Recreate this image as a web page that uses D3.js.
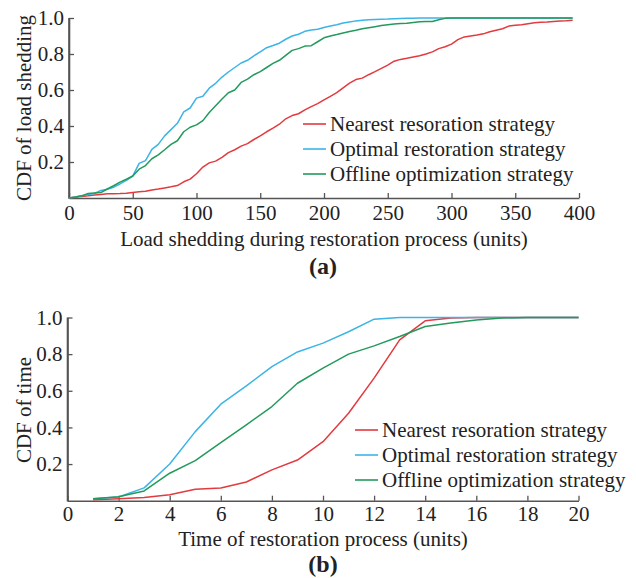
<!DOCTYPE html>
<html>
<head>
<meta charset="utf-8">
<script src="https://cdn.jsdelivr.net/npm/d3@7/dist/d3.min.js"></script>
<style>
  html, body { margin: 0; padding: 0; background: #fff; }
  svg text { font-family: "Liberation Serif", "Times New Roman", serif; fill: #222; }
</style>
</head>
<body>
<svg id="chart" width="636" height="578"></svg>
<script>
// ---- Panel (a): CDF of load shedding ----
const loadShed = [0,5,10,15,20,25,30,35,40,45,50,55,60,65,70,75,80,85,90,95,
  100,105,110,115,120,125,130,135,140,145,150,155,160,165,170,175,180,185,190,195,
  200,205,210,215,220,225,230,235,240,245,250,255,260,265,270,275,280,285,290,295,
  300,305,310,315,320,325,330,335,340,345,350,355,360,365,370,375,380,385,390,395];

const cdfNearestA = [0,0.004,0.009,0.012,0.017,0.02,0.023,0.024,0.025,0.027,
  0.031,0.035,0.037,0.045,0.05,0.056,0.062,0.069,0.09,0.105,
  0.135,0.172,0.195,0.205,0.226,0.252,0.268,0.288,0.302,0.325,
  0.345,0.368,0.388,0.41,0.44,0.458,0.468,0.49,0.508,0.524,
  0.545,0.565,0.585,0.612,0.638,0.658,0.666,0.685,0.702,0.72,
  0.738,0.76,0.77,0.776,0.783,0.79,0.8,0.812,0.83,0.84,
  0.855,0.88,0.895,0.9,0.905,0.912,0.924,0.932,0.94,0.955,
  0.96,0.962,0.968,0.973,0.976,0.978,0.981,0.983,0.985,0.988];

const cdfOptimalA = [0,0.005,0.012,0.02,0.025,0.042,0.048,0.06,0.078,0.098,
  0.122,0.192,0.208,0.27,0.298,0.345,0.38,0.415,0.478,0.5,
  0.555,0.565,0.61,0.637,0.672,0.7,0.725,0.75,0.765,0.79,
  0.812,0.835,0.847,0.86,0.882,0.9,0.91,0.926,0.933,0.937,
  0.947,0.955,0.963,0.972,0.978,0.984,0.988,0.99,0.992,0.993,
  0.994,0.996,0.997,0.998,0.999,1,1,1,1,1,
  1,1,1,1,1,1,1,1,1,1,
  1,1,1,1,1,1,1,1,1,1];

const cdfOfflineA = [0,0.005,0.012,0.025,0.028,0.03,0.05,0.068,0.088,0.104,
  0.122,0.16,0.18,0.218,0.24,0.268,0.298,0.318,0.368,0.393,
  0.406,0.43,0.475,0.512,0.55,0.585,0.6,0.642,0.66,0.685,
  0.702,0.725,0.748,0.765,0.792,0.82,0.83,0.844,0.846,0.868,
  0.89,0.9,0.908,0.917,0.925,0.932,0.94,0.946,0.952,0.958,
  0.963,0.967,0.969,0.971,0.975,0.979,0.98,0.981,0.99,0.998,
  1,1,1,1,1,1,1,1,1,1,
  1,1,1,1,1,1,1,1,1,1];

const xTicksA = [0,50,100,150,200,250,300,350,400];

// ---- Panel (b): CDF of restoration time ----
const restTime = [1,2,3,4,5,6,7,8,9,10,11,12,13,14,15,16,17,18,19,20];
const cdfNearestB = [0.005,0.01,0.018,0.033,0.062,0.069,0.102,0.168,0.222,0.322,
  0.477,0.669,0.878,0.982,0.997,1,1,1,1,1];
const cdfOptimalB = [0.01,0.02,0.07,0.2,0.377,0.527,0.627,0.732,0.812,0.86,
  0.922,0.991,1,1,1,1,1,1,1,1];
const cdfOfflineB = [0.01,0.022,0.053,0.15,0.219,0.317,0.414,0.514,0.641,0.724,
  0.8,0.845,0.896,0.951,0.97,0.987,0.997,1,1,1];
const xTicksB = [0,2,4,6,8,10,12,14,16,18,20];

const yTicks = [0.2,0.4,0.6,0.8,1.0];
const strategyNames = ["Nearest resoration strategy", "Optimal restoration strategy", "Offline optimization strategy"];
const strategyColors = ["#e23a3f", "#3cb4e5", "#239a5c"];

const svg = d3.select("#chart");
const axisColor = "#555";
const fontSize = 21;

function panel(cfg) {
  const x = d3.scaleLinear().domain(cfg.xDomain).range([cfg.left, cfg.right]);
  const y = d3.scaleLinear().domain([0, 1]).range([cfg.bottom, cfg.top]);
  const g = svg.append("g");

  // bottom axis with ticks pointing into the plot
  const xAxis = g.append("g")
    .attr("transform", `translate(0,${cfg.bottom})`)
    .call(d3.axisBottom(x).tickValues(cfg.xTicks).tickSizeInner(-5).tickSizeOuter(0).tickPadding(cfg.xPad).tickFormat(d3.format("d")));
  // left axis
  const yAxis = g.append("g")
    .attr("transform", `translate(${cfg.left},0)`)
    .call(d3.axisLeft(y).tickValues(yTicks).tickSizeInner(-5).tickSizeOuter(0).tickPadding(5).tickFormat(d3.format(".1f")));

  [xAxis, yAxis].forEach(a => {
    a.select(".domain").attr("stroke", axisColor).attr("stroke-width", 1.6);
    a.selectAll(".tick line").attr("stroke", axisColor).attr("stroke-width", 1.3);
    a.selectAll(".tick text").attr("font-size", fontSize).attr("fill", "#222")
      .style("font-family", "'Liberation Serif', 'Times New Roman', serif");
  });
  // extend the y axis line down to the origin corner
  g.append("line")
    .attr("x1", cfg.left).attr("x2", cfg.left)
    .attr("y1", y(1)).attr("y2", cfg.bottom + 0.8)
    .attr("stroke", axisColor).attr("stroke-width", 1.6);

  const line = d3.line().x(d => x(d[0])).y(d => y(d[1]));
  cfg.series.forEach((s, i) => {
    g.append("path")
      .datum(cfg.xs.map((v, k) => [v, s[k]]))
      .attr("fill", "none")
      .attr("stroke", strategyColors[i])
      .attr("stroke-width", 1.5)
      .attr("stroke-linejoin", "round")
      .attr("d", line);
  });

  // legend
  const lg = g.append("g").attr("transform", `translate(${cfg.legendX},${cfg.legendY})`);
  strategyNames.forEach((name, i) => {
    const row = lg.append("g").attr("transform", `translate(0,${i * 25})`);
    row.append("line").attr("x1", 0).attr("x2", 23).attr("y1", 0).attr("y2", 0)
      .attr("stroke", strategyColors[i]).attr("stroke-width", 1.6);
    row.append("text").attr("x", 27).attr("y", 0).attr("dy", "0.35em")
      .attr("font-size", fontSize).text(name);
  });

  // axis titles
  g.append("text")
    .attr("x", (cfg.left + cfg.right) / 2).attr("y", cfg.xLabelY)
    .attr("text-anchor", "middle").attr("font-size", fontSize).text(cfg.xLabel);
  g.append("text")
    .attr("transform", `translate(${cfg.yLabelX},${cfg.yLabelCY}) rotate(-90)`)
    .attr("text-anchor", "middle").attr("font-size", fontSize).text(cfg.yLabel);
  g.append("text")
    .attr("x", cfg.tagX).attr("y", cfg.tagY)
    .attr("text-anchor", "middle").attr("font-size", 24).attr("font-weight", "bold").text(cfg.tag);
}

panel({
  xDomain: [0, 400], left: 69, right: 579, top: 18, bottom: 198, xPad: 7,
  xTicks: xTicksA, xs: loadShed,
  series: [cdfNearestA, cdfOptimalA, cdfOfflineA],
  legendX: 303, legendY: 124,
  xLabel: "Load shedding during restoration process (units)", xLabelY: 246,
  yLabel: "CDF of load shedding", yLabelX: 31, yLabelCY: 108,
  tag: "(a)", tagX: 323, tagY: 274
});

panel({
  xDomain: [0, 20], left: 67.5, right: 578.5, top: 317.5, bottom: 500.7, xPad: 5.5,
  xTicks: xTicksB, xs: restTime,
  series: [cdfNearestB, cdfOptimalB, cdfOfflineB],
  legendX: 355, legendY: 430,
  xLabel: "Time of restoration process (units)", xLabelY: 546,
  yLabel: "CDF of time", yLabelX: 31, yLabelCY: 410,
  tag: "(b)", tagX: 323, tagY: 572
});
</script>
</body>
</html>
